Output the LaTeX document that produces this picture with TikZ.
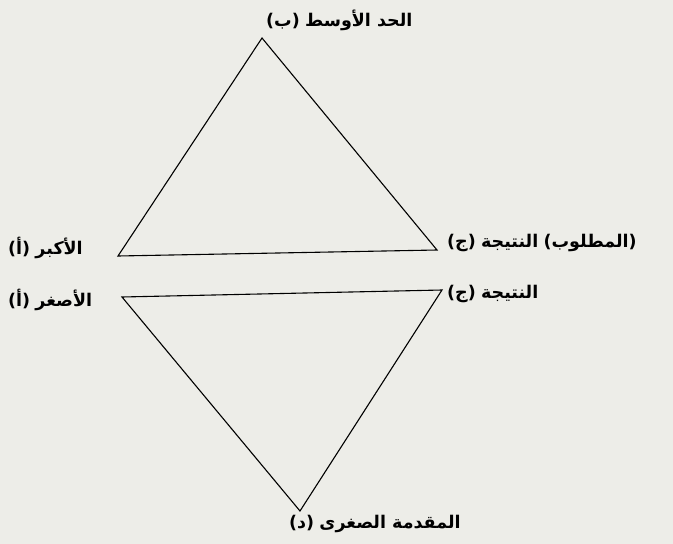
\documentclass[tikz,border=0pt]{standalone}
\usepackage{fontspec}
\TeXXeTstate=1
\newfontfamily\arabicfont[Script=Arabic]{DejaVu Sans}
\newfontfamily\latinfont{DejaVu Sans}
\definecolor{paper}{HTML}{EDEDE8}
\newcommand{\ar}[1]{{\arabicfont\bfseries\beginR #1\endR}}
\newcommand{\pl}{{\latinfont\bfseries(}}
\newcommand{\pr}{{\latinfont\bfseries)}}
\newcommand{\lbl}[1]{\pl\ar{#1}\pr}
\begin{document}
\begin{tikzpicture}[x=1pt,y=-1pt,
  edge/.style={draw=black,line width=1.1pt,line join=miter},
  lab/.style={inner sep=0pt,font=\fontsize{17.5}{20}\selectfont,text=black}]
\useasboundingbox (0,0) rectangle (673,544);
\fill[paper] (0,0) rectangle (673,544);
% upper triangle
\coordinate (ut) at (262,38);
\coordinate (ul) at (118,256);
\coordinate (ur) at (437,250);
% lower triangle
\coordinate (ll) at (122,297);
\coordinate (lr) at (442,290);
\coordinate (lb) at (300,511);
\draw[edge] (ut) -- (ul) -- (ur) -- cycle;
\draw[edge] (ll) -- (lr) -- (lb) -- cycle;
% labels
\node[lab,anchor=west] (tlab) at (266,20) {\lbl{ب}\ \ar{الحد الأوسط}};
\node[lab,anchor=west] (ullab) at (8,248) {\lbl{أ}\ \ar{الأكبر}};
\node[lab,anchor=west] (lllab) at (8,300) {\lbl{أ}\ \ar{الأصغر}};
\node[lab,anchor=west] (urlab) at (447,243) {\lbl{ج}\ \ar{النتيجة}\ \pl\ar{المطلوب}\pr};
\node[lab,anchor=west] (lrlab) at (447,294) {\lbl{ج}\ \ar{النتيجة}};
\node[lab,anchor=west] (blab) at (289,524) {\lbl{د}\ \ar{المقدمة الصغرى}};
\end{tikzpicture}
\end{document}
